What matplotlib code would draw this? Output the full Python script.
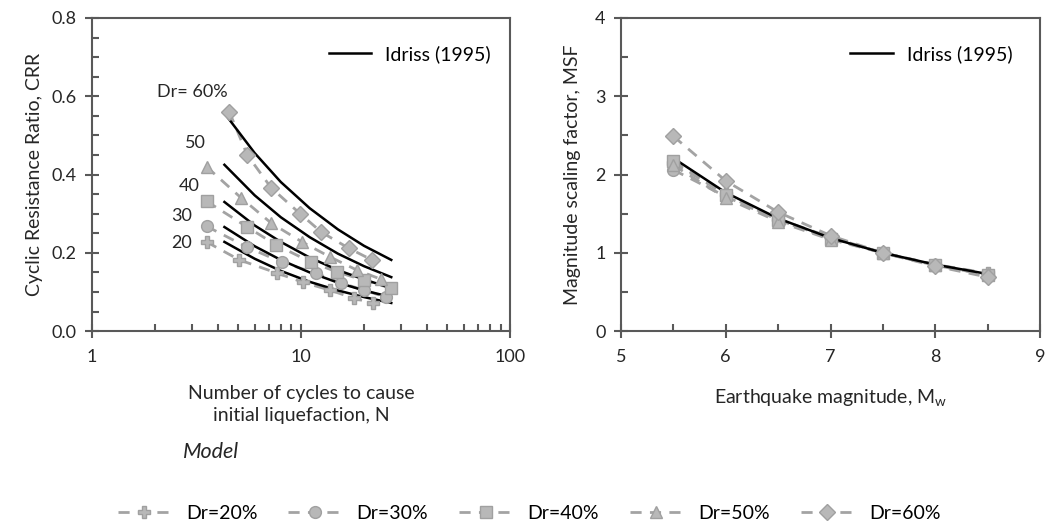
import numpy as np
import matplotlib
matplotlib.use("Agg")
import matplotlib.pyplot as plt
from matplotlib.lines import Line2D
from matplotlib.ticker import FixedLocator, NullFormatter, MultipleLocator, FormatStrFormatter

plt.rcParams["font.family"] = ["Lato", "DejaVu Sans"]
plt.rcParams["font.size"] = 12.5

# --- Cyclic resistance ratio vs number of cycles -----------------------------
dr_labels = ["Dr=20%", "Dr=30%", "Dr=40%", "Dr=50%", "Dr=60%"]
markers = ["P", "o", "s", "^", "D"]

n_model = {
    "Dr=20%": [3.53, 5.07, 7.7, 10.2, 13.7, 17.9, 22.0],
    "Dr=30%": [3.53, 5.5, 8.1, 11.8, 15.5, 20.0, 25.4],
    "Dr=40%": [3.53, 5.53, 7.6, 11.2, 14.9, 20.0, 26.8],
    "Dr=50%": [3.53, 5.18, 7.2, 10.1, 13.7, 18.5, 24.0],
    "Dr=60%": [4.54, 5.53, 7.2, 9.9, 12.5, 16.9, 21.8],
}
crr_model = {
    "Dr=20%": [0.228, 0.182, 0.148, 0.125, 0.105, 0.084, 0.072],
    "Dr=30%": [0.268, 0.215, 0.176, 0.148, 0.123, 0.105, 0.087],
    "Dr=40%": [0.332, 0.266, 0.220, 0.176, 0.151, 0.130, 0.110],
    "Dr=50%": [0.420, 0.340, 0.276, 0.228, 0.190, 0.156, 0.133],
    "Dr=60%": [0.560, 0.450, 0.366, 0.300, 0.253, 0.212, 0.182],
}

n_idriss = [4.3, 6, 8, 11, 15, 20, 27]
crr_idriss = {
    "Dr=20%": [0.228, 0.185, 0.154, 0.126, 0.104, 0.087, 0.072],
    "Dr=30%": [0.266, 0.217, 0.182, 0.150, 0.124, 0.104, 0.087],
    "Dr=40%": [0.330, 0.270, 0.228, 0.188, 0.156, 0.132, 0.110],
    "Dr=50%": [0.425, 0.347, 0.291, 0.240, 0.198, 0.166, 0.138],
    "Dr=60%": [0.557, 0.455, 0.381, 0.314, 0.260, 0.218, 0.182],
}

# curve labels: (text, N, CRR)
curve_labels = [("Dr= 60%", 4.44, 0.611), ("50", 3.49, 0.481), ("40", 3.27, 0.371),
                ("30", 3.0, 0.294), ("20", 3.0, 0.225)]

# --- Magnitude scaling factor ------------------------------------------------
mag = [5.5, 6.0, 6.5, 7.0, 7.5, 8.0, 8.5]
msf_idriss = [2.21, 1.77, 1.44, 1.19, 1.00, 0.85, 0.73]
msf_model = {
    "Dr=20%": [2.15, 1.75, 1.43, 1.20, 1.00, 0.85, 0.74],
    "Dr=30%": [2.06, 1.72, 1.42, 1.19, 1.00, 0.84, 0.72],
    "Dr=40%": [2.17, 1.74, 1.42, 1.18, 1.00, 0.84, 0.72],
    "Dr=50%": [2.12, 1.70, 1.40, 1.17, 1.00, 0.85, 0.73],
    "Dr=60%": [2.49, 1.92, 1.52, 1.22, 1.00, 0.83, 0.69],
}

dash_col = "#a3a3a3"
mk_face = "#b8b8b8"
mk_edge = "#a0a0a0"
spine_col = "#595959"
text_col = "#262626"


def style_axes(ax):
    for s in ax.spines.values():
        s.set_color(spine_col)
        s.set_linewidth(1.5)
    ax.tick_params(which="major", direction="inout", length=10, width=1.5,
                   color=spine_col, labelcolor=text_col, labelsize=13)
    ax.tick_params(which="minor", direction="in", length=5, width=1.5, color=spine_col)
    ax.tick_params(axis="x", which="major", pad=8)
    ax.tick_params(axis="y", which="major", pad=6)


def draw_model(ax, xs, ys, mk):
    ax.plot(xs, ys, color=dash_col, lw=2, dashes=(4, 3), zorder=2)
    ax.plot(xs, ys, ls="none", marker=mk, ms=8.5, mfc=mk_face, mec=mk_edge, zorder=4)


fig = plt.figure(figsize=(10.56, 5.29), dpi=100)
ax1 = fig.add_axes([0.0871, 0.374, 0.396, 0.592])
ax2 = fig.add_axes([0.588, 0.374, 0.397, 0.592])

# left panel
for lab, mk in zip(dr_labels, markers):
    draw_model(ax1, n_model[lab], crr_model[lab], mk)
    ax1.plot(n_idriss, crr_idriss[lab], color="black", lw=1.8, zorder=3)
for txt, x, y in curve_labels:
    ax1.text(x, y, txt, ha="right", va="center", fontsize=13, color=text_col)

ax1.set_xscale("log")
ax1.set_xlim(1, 100)
ax1.set_ylim(0, 0.8)
ax1.xaxis.set_major_locator(FixedLocator([1, 10, 100]))
ax1.xaxis.set_major_formatter(FormatStrFormatter("%g"))
ax1.xaxis.set_minor_locator(FixedLocator([k * d for d in (1, 10) for k in range(2, 10)]))
ax1.xaxis.set_minor_formatter(NullFormatter())
ax1.yaxis.set_major_locator(MultipleLocator(0.2))
ax1.yaxis.set_minor_locator(MultipleLocator(0.05))
ax1.yaxis.set_major_formatter(FormatStrFormatter("%.1f"))
ax1.set_ylabel("Cyclic Resistance Ratio, CRR", fontsize=14, color=text_col, labelpad=6)
ax1.set_xlabel("Number of cycles to cause\ninitial liquefaction, N", fontsize=14,
               color=text_col, labelpad=14, linespacing=1.35)
style_axes(ax1)
ax1.legend([Line2D([], [], color="black", lw=1.8)], ["Idriss (1995)"], loc="upper right",
           frameon=False, fontsize=14, handlelength=2.2, handletextpad=0.7,
           bbox_to_anchor=(0.995, 0.97))

# right panel
for lab, mk in zip(dr_labels, markers):
    draw_model(ax2, mag, msf_model[lab], mk)
ax2.plot(mag, msf_idriss, color="black", lw=1.8, zorder=3)

ax2.set_xlim(5, 9)
ax2.set_ylim(0, 4)
ax2.xaxis.set_major_locator(MultipleLocator(1))
ax2.xaxis.set_minor_locator(MultipleLocator(0.5))
ax2.yaxis.set_major_locator(MultipleLocator(1))
ax2.yaxis.set_minor_locator(MultipleLocator(0.5))
ax2.set_ylabel("Magnitude scaling factor, MSF", fontsize=14, color=text_col, labelpad=10)
ax2.set_xlabel("Earthquake magnitude, M$_\\mathregular{w}$", fontsize=14,
               color=text_col, labelpad=16)
style_axes(ax2)
ax2.legend([Line2D([], [], color="black", lw=1.8)], ["Idriss (1995)"], loc="upper right",
           frameon=False, fontsize=14, handlelength=2.2, handletextpad=0.7,
           bbox_to_anchor=(0.975, 0.97))

# shared model legend
handles = [Line2D([], [], color=dash_col, lw=2, dashes=(4, 3), marker=mk, ms=8.5,
                  mfc=mk_face, mec=mk_edge) for mk in markers]
fig.legend(handles, dr_labels, loc="center", bbox_to_anchor=(0.501, 0.03), ncol=5,
           frameon=False, fontsize=14, handlelength=2.7, columnspacing=1.6,
           handletextpad=0.8)
fig.text(0.173, 0.146, "Model", fontsize=15.5, style="italic", color=text_col, va="center")

fig.savefig("out.png", dpi=100)
